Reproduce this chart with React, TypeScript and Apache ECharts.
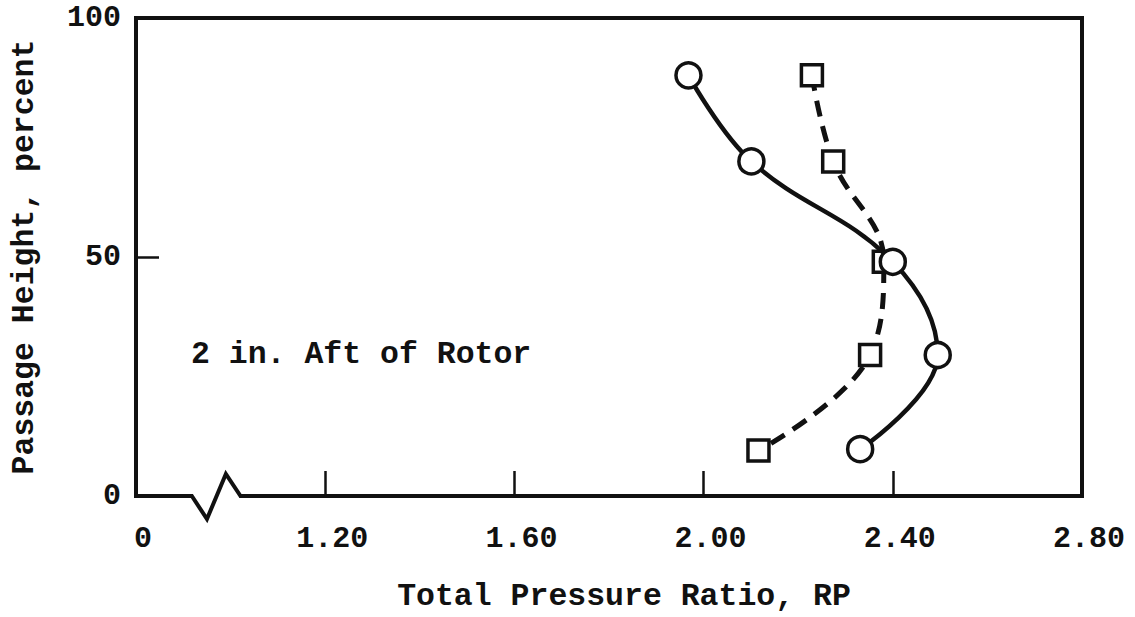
import React, { useEffect, useRef } from "react";
import * as echarts from "echarts";

// Data
const circleX = [1.968, 2.101, 2.4, 2.495, 2.331];
const circleY = [88, 70, 49, 29.5, 9.8];
const squareX = [2.229, 2.274, 2.381, 2.352, 2.116];
const squareY = [88, 70, 49, 29.5, 9.5];
const xTickValues = [0.8, 1.2, 1.6, 2.0, 2.4, 2.8];
const xTickLabels = ["0", "1.20", "1.60", "2.00", "2.40", "2.80"];
const yTickValues = [0, 50, 100];
const yTickLabels = ["0", "50", "100"];
const breakX = [0.918, 0.95, 0.99, 1.021];
const annotation = "2 in. Aft of Rotor";
const xTitle = "Total Pressure Ratio, RP";
const yTitle = "Passage Height, percent";

const INK = "#111";
const FONT = "'Liberation Mono', 'DejaVu Sans Mono', monospace";

function labelFor(values: number[], labels: string[], v: number) {
  for (let i = 0; i < values.length; i++) {
    if (Math.abs(values[i] - v) < 1e-6) return labels[i];
  }
  return "";
}

export default function App() {
  const ref = useRef<HTMLDivElement>(null);
  useEffect(() => {
    if (!ref.current) return;
    const chart = echarts.init(ref.current, undefined, { renderer: "svg" });
    const option: any = {
      animation: false,
      backgroundColor: "#fff",
      grid: {
        left: 132,
        right: 53,
        top: 18,
        bottom: 119,
        show: true,
        borderColor: INK,
        borderWidth: 4,
        backgroundColor: "transparent",
      },
      xAxis: {
        type: "value",
        min: 0.8,
        max: 2.8,
        interval: 0.4,
        name: xTitle,
        nameLocation: "middle",
        nameGap: 84,
        nameTextStyle: {
          fontFamily: FONT,
          fontWeight: "bold",
          fontSize: 31.5,
          color: INK,
          padding: [0, 0, 0, 30],
        },
        axisLine: { show: true, lineStyle: { color: INK, width: 4 } },
        axisTick: { show: true, inside: true, length: 25, lineStyle: { color: INK, width: 2.5 } },
        axisLabel: {
          margin: 28,
          fontFamily: FONT,
          fontWeight: "bold",
          fontSize: 30,
          color: INK,
          padding: [0, 0, 0, 14],
          formatter: (v: number) => labelFor(xTickValues, xTickLabels, v),
        },
        splitLine: { show: false },
      },
      yAxis: {
        type: "value",
        min: 0,
        max: 100,
        interval: 50,
        name: yTitle,
        nameLocation: "middle",
        nameGap: 96,
        nameTextStyle: { fontFamily: FONT, fontWeight: "bold", fontSize: 31.5, color: INK },
        axisLine: { show: true, lineStyle: { color: INK, width: 4 } },
        axisTick: { show: true, inside: true, length: 23, lineStyle: { color: INK, width: 2.5 } },
        axisLabel: {
          margin: 15,
          fontFamily: FONT,
          fontWeight: "bold",
          fontSize: 30,
          color: INK,
          formatter: (v: number) => labelFor(yTickValues, yTickLabels, v),
        },
        splitLine: { show: false },
      },
      series: [
        {
          type: "line",
          name: "squares",
          data: squareX.map((x, i) => [x, squareY[i]]),
          smooth: 0.4,
          symbol: "rect",
          symbolSize: 21,
          lineStyle: { color: INK, width: 5, type: [16, 10] },
          itemStyle: { color: "#fff", borderColor: INK, borderWidth: 3.5 },
          z: 3,
        },
        {
          type: "line",
          name: "circles",
          data: circleX.map((x, i) => [x, circleY[i]]),
          smooth: 0.4,
          symbol: "circle",
          symbolSize: 25,
          lineStyle: { color: INK, width: 4.5 },
          itemStyle: { color: "#fff", borderColor: INK, borderWidth: 3.5 },
          z: 4,
        },
      ],
    };
    chart.setOption(option);

    const pts = breakX.map((x) => chart.convertToPixel({ gridIndex: 0 }, [x, 0]) as number[]);
    const y0 = pts[0][1];
    const a = chart.convertToPixel({ gridIndex: 0 }, [0.8, 0]) as number[];
    const annPos = chart.convertToPixel({ gridIndex: 0 }, [0.92, 29.5]) as number[];
    chart.setOption({
      graphic: [
        {
          type: "rect",
          z: 100,
          shape: { x: pts[0][0] + 1, y: y0 - 5, width: pts[3][0] - pts[0][0] - 2, height: 10 },
          style: { fill: "#fff" },
        },
        {
          type: "polyline",
          z: 101,
          shape: {
            points: [
              [a[0], y0],
              [pts[0][0], y0],
              [pts[1][0], y0 + 23],
              [pts[2][0], y0 - 22],
              [pts[3][0], y0],
              [pts[3][0] + 4, y0],
            ],
          },
          style: { stroke: INK, lineWidth: 4, fill: null, lineJoin: "miter" },
        },
        {
          type: "text",
          z: 50,
          x: 191,
          y: annPos[1],
          style: {
            text: annotation,
            font: `bold 31.5px ${FONT}`,
            fill: INK,
            verticalAlign: "middle",
          },
        },
      ],
    });

    return () => chart.dispose();
  }, []);
  return (
    <div
      ref={ref}
      style={{ position: "absolute", left: 0, top: 0, width: 1135, height: 617 }}
    />
  );
}
